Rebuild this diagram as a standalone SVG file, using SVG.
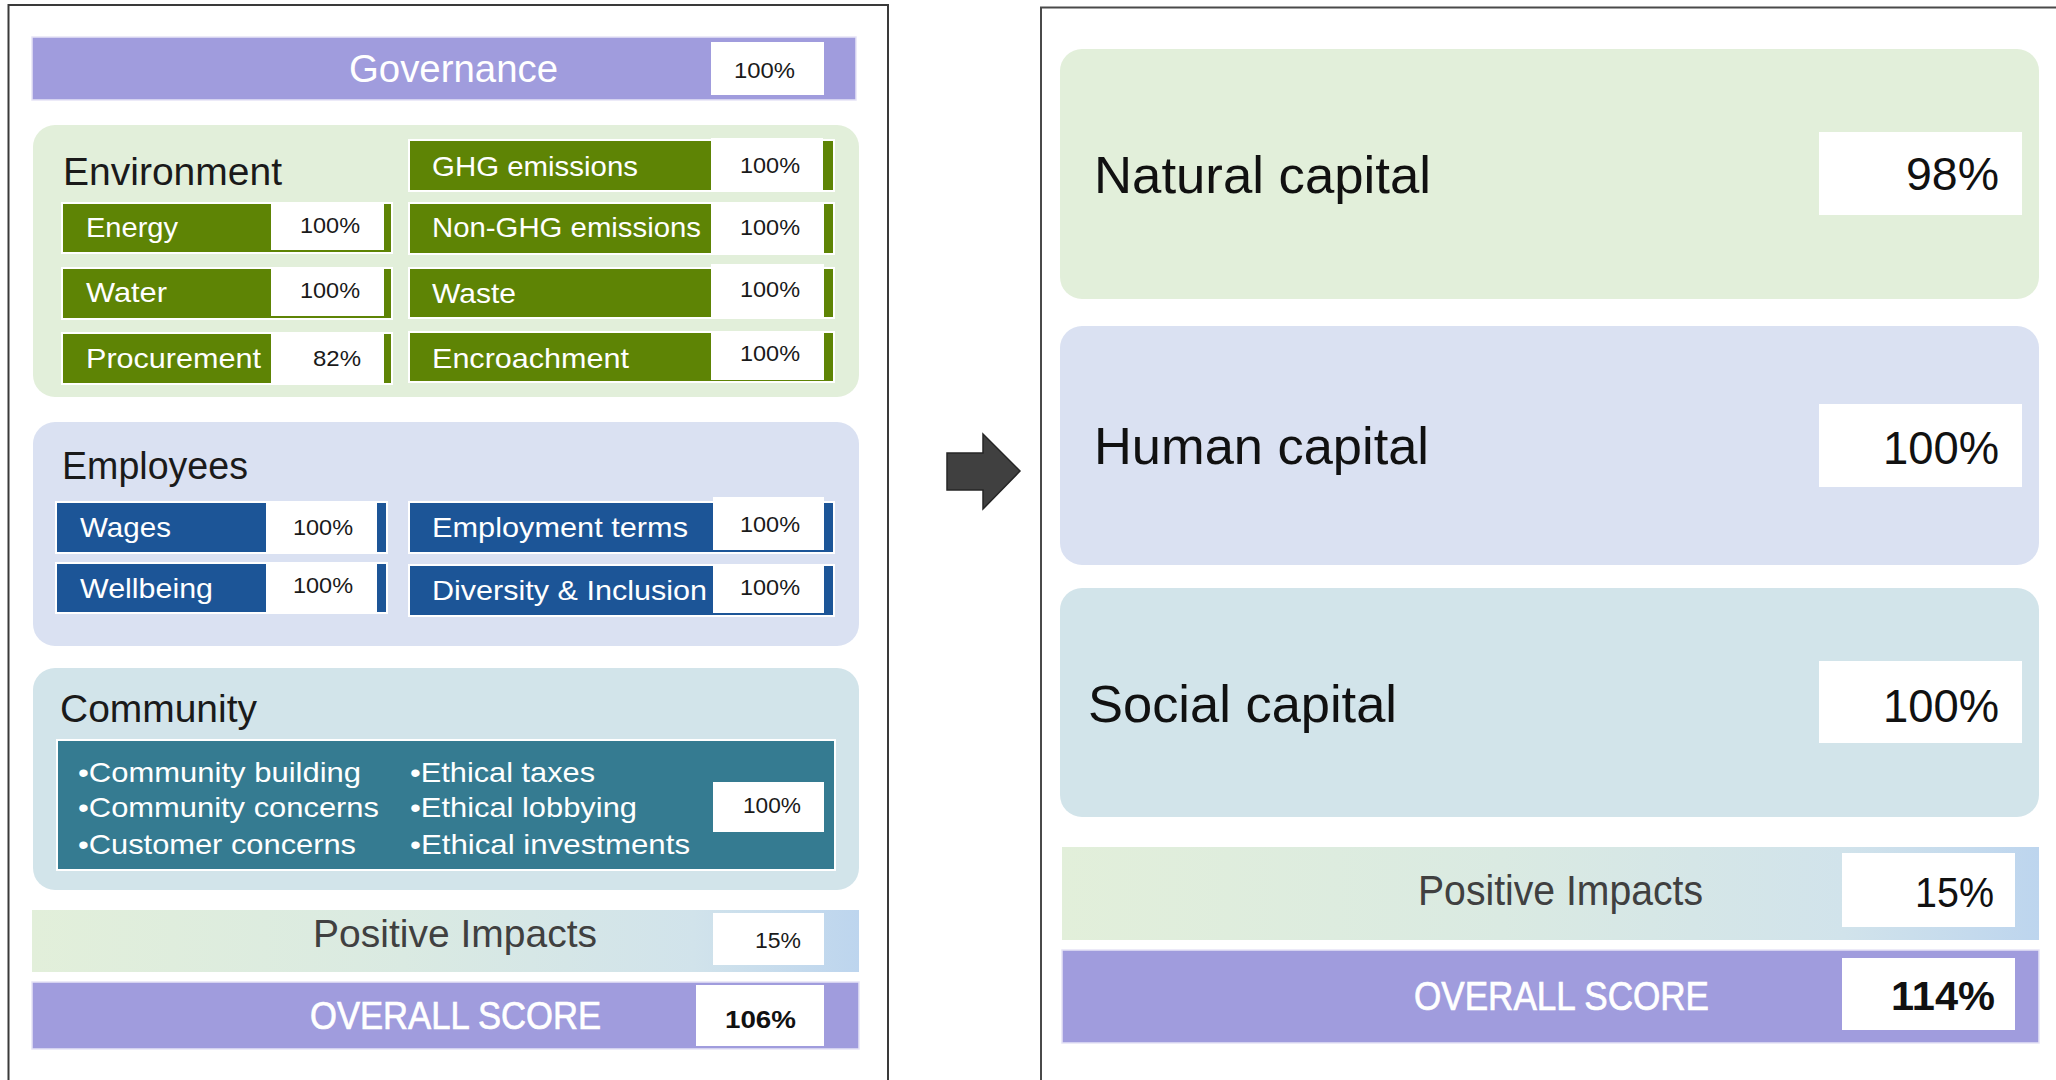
<svg xmlns="http://www.w3.org/2000/svg" width="2056" height="1080" viewBox="0 0 2056 1080">
<style>
text{font-family:"Liberation Sans",Arial,sans-serif}
.panel{fill:#fff;stroke:#3a3a3a;stroke-width:2}
.purple{fill:#A09CDD;stroke:#e6e4f6;stroke-width:1.5}
.wbox{fill:#fff}
.envbox{fill:#E2EFDA}
.empbox{fill:#DAE1F2}
.combox{fill:#D2E4EA}
.green{fill:#5E8405;stroke:#fff;stroke-width:2}
.blue{fill:#1C5597;stroke:#fff;stroke-width:2}
.teal{fill:#357B91;stroke:#fff;stroke-width:2}
.lbl{fill:#fff;font-size:28px}
.pct{fill:#1a1a1a;font-size:22px}
.title{fill:#1a1a1a;font-size:38px}
.big{fill:#111;font-size:52px}
.bigpct{fill:#111;font-size:46px}
.pos{fill:#404040}
.score{fill:#fff;stroke:#fff;stroke-width:0.7}
</style>
<defs>
<linearGradient id="posgrad" x1="0" y1="0" x2="1" y2="0">
<stop offset="0" stop-color="#E2EFDA"/>
<stop offset="0.45" stop-color="#DAEAE2"/>
<stop offset="0.8" stop-color="#D1E3EB"/>
<stop offset="1" stop-color="#BDD5EE"/>
</linearGradient>
</defs>
<rect width="2056" height="1080" fill="#fff"/>

<!-- left panel frame -->
<rect class="panel" x="8.5" y="5" width="879.5" height="1100"/>
<!-- right panel frame -->
<path d="M1041,1090 V7.5 H2060" fill="none" stroke="#4a4a4a" stroke-width="2"/>

<g id="governance">
<rect class="purple" x="32" y="37" width="824" height="63"/>
<rect class="wbox" x="711" y="42" width="113" height="53"/>
<text x="349" y="82" font-size="39" fill="#fff" textLength="209" lengthAdjust="spacingAndGlyphs">Governance</text>
<text class="pct" x="734" y="78" textLength="61" lengthAdjust="spacingAndGlyphs">100%</text>
</g>

<g id="environment">
<rect class="envbox" x="33" y="125" width="826" height="272" rx="22"/>
<text class="title" x="63" y="185" font-size="39" textLength="219" lengthAdjust="spacingAndGlyphs">Environment</text>
</g>
<g id="energy">
<rect class="green" x="62" y="203" width="330" height="50"/>
<rect class="wbox" x="271" y="203" width="113" height="47"/>
<text class="lbl" x="86" y="237" textLength="92" lengthAdjust="spacingAndGlyphs">Energy</text>
<text class="pct" x="300" y="233" textLength="60" lengthAdjust="spacingAndGlyphs">100%</text>
</g>
<g id="water">
<rect class="green" x="62" y="268" width="330" height="51"/>
<rect class="wbox" x="271" y="268" width="113" height="48"/>
<text class="lbl" x="86" y="302" textLength="81" lengthAdjust="spacingAndGlyphs">Water</text>
<text class="pct" x="300" y="298" textLength="60" lengthAdjust="spacingAndGlyphs">100%</text>
</g>
<g id="procurement">
<rect class="green" x="62" y="333" width="330" height="51"/>
<rect class="wbox" x="271" y="333" width="113" height="50"/>
<text class="lbl" x="86" y="368" textLength="175" lengthAdjust="spacingAndGlyphs">Procurement</text>
<text class="pct" x="313" y="366" textLength="48" lengthAdjust="spacingAndGlyphs">82%</text>
</g>
<g id="ghg">
<rect class="green" x="409" y="140" width="425" height="51"/>
<rect class="wbox" x="711" y="138" width="112" height="53"/>
<text class="lbl" x="432" y="176" textLength="206" lengthAdjust="spacingAndGlyphs">GHG emissions</text>
<text class="pct" x="740" y="173" textLength="60" lengthAdjust="spacingAndGlyphs">100%</text>
</g>
<g id="nonghg">
<rect class="green" x="409" y="203" width="425" height="51"/>
<rect class="wbox" x="711" y="203" width="113" height="51"/>
<text class="lbl" x="432" y="237" textLength="269" lengthAdjust="spacingAndGlyphs">Non-GHG emissions</text>
<text class="pct" x="740" y="235" textLength="60" lengthAdjust="spacingAndGlyphs">100%</text>
</g>
<g id="waste">
<rect class="green" x="409" y="268" width="425" height="50"/>
<rect class="wbox" x="711" y="264" width="113" height="53"/>
<text class="lbl" x="432" y="303" textLength="84" lengthAdjust="spacingAndGlyphs">Waste</text>
<text class="pct" x="740" y="297" textLength="60" lengthAdjust="spacingAndGlyphs">100%</text>
</g>
<g id="encroachment">
<rect class="green" x="409" y="332" width="425" height="50"/>
<rect class="wbox" x="711" y="331" width="113" height="49"/>
<text class="lbl" x="432" y="368" textLength="197" lengthAdjust="spacingAndGlyphs">Encroachment</text>
<text class="pct" x="740" y="361" textLength="60" lengthAdjust="spacingAndGlyphs">100%</text>
</g>

<g id="employees">
<rect class="empbox" x="33" y="422" width="826" height="224" rx="22"/>
<text class="title" x="62" y="479" textLength="186" lengthAdjust="spacingAndGlyphs">Employees</text>
</g>
<g id="wages">
<rect class="blue" x="56" y="502" width="331" height="51"/>
<rect class="wbox" x="266" y="502" width="111" height="50"/>
<text class="lbl" x="80" y="537" textLength="91" lengthAdjust="spacingAndGlyphs">Wages</text>
<text class="pct" x="293" y="535" textLength="60" lengthAdjust="spacingAndGlyphs">100%</text>
</g>
<g id="wellbeing">
<rect class="blue" x="56" y="563" width="331" height="50"/>
<rect class="wbox" x="266" y="563" width="111" height="50"/>
<text class="lbl" x="80" y="598" textLength="133" lengthAdjust="spacingAndGlyphs">Wellbeing</text>
<text class="pct" x="293" y="593" textLength="60" lengthAdjust="spacingAndGlyphs">100%</text>
</g>
<g id="employment-terms">
<rect class="blue" x="409" y="502" width="425" height="51"/>
<rect class="wbox" x="713" y="497" width="111" height="53"/>
<text class="lbl" x="432" y="537" textLength="256" lengthAdjust="spacingAndGlyphs">Employment terms</text>
<text class="pct" x="740" y="532" textLength="60" lengthAdjust="spacingAndGlyphs">100%</text>
</g>
<g id="diversity">
<rect class="blue" x="409" y="565" width="425" height="51"/>
<rect class="wbox" x="713" y="565" width="111" height="48"/>
<text class="lbl" x="432" y="600" textLength="275" lengthAdjust="spacingAndGlyphs">Diversity &amp; Inclusion</text>
<text class="pct" x="740" y="595" textLength="60" lengthAdjust="spacingAndGlyphs">100%</text>
</g>

<g id="community">
<rect class="combox" x="33" y="668" width="826" height="222" rx="22"/>
<text class="title" x="60" y="722" textLength="197" lengthAdjust="spacingAndGlyphs">Community</text>
<rect class="teal" x="57" y="740" width="778" height="130"/>
<rect class="wbox" x="713" y="782" width="111" height="50"/>
<text class="lbl" x="78" y="782" textLength="283" lengthAdjust="spacingAndGlyphs">•Community building</text>
<text class="lbl" x="78" y="817" textLength="301" lengthAdjust="spacingAndGlyphs">•Community concerns</text>
<text class="lbl" x="78" y="854" textLength="278" lengthAdjust="spacingAndGlyphs">•Customer concerns</text>
<text class="lbl" x="410" y="782" textLength="185" lengthAdjust="spacingAndGlyphs">•Ethical taxes</text>
<text class="lbl" x="410" y="817" textLength="227" lengthAdjust="spacingAndGlyphs">•Ethical lobbying</text>
<text class="lbl" x="410" y="854" textLength="280" lengthAdjust="spacingAndGlyphs">•Ethical investments</text>
<text class="pct" x="743" y="813" textLength="58" lengthAdjust="spacingAndGlyphs">100%</text>
</g>

<g id="positive-left">
<rect x="32" y="910" width="827" height="62" fill="url(#posgrad)"/>
<rect class="wbox" x="713" y="913" width="111" height="52"/>
<text class="pos" x="313" y="947" font-size="39" textLength="284" lengthAdjust="spacingAndGlyphs">Positive Impacts</text>
<text class="pct" x="755" y="948" font-size="19" textLength="46" lengthAdjust="spacingAndGlyphs">15%</text>
</g>

<g id="overall-left">
<rect class="purple" x="32" y="982" width="827" height="67"/>
<rect class="wbox" x="696" y="985" width="128" height="61"/>
<text class="score" x="310" y="1029" font-size="38" textLength="291" lengthAdjust="spacingAndGlyphs">OVERALL SCORE</text>
<text x="725" y="1028" font-size="24" font-weight="bold" fill="#111" textLength="71" lengthAdjust="spacingAndGlyphs">106%</text>
</g>

<g id="connectors">
<polygon points="947,453 983,453 983,434 1020,471 983,509 983,490 947,490" fill="#404040" stroke="#262626" stroke-width="1.5" stroke-linejoin="miter"/>
</g>

<g id="natural-capital">
<rect class="envbox" x="1060" y="49" width="979" height="250" rx="22"/>
<rect class="wbox" x="1819" y="132" width="203" height="83"/>
<text class="big" x="1094" y="193" textLength="337" lengthAdjust="spacingAndGlyphs">Natural capital</text>
<text class="bigpct" x="1906" y="190" textLength="93" lengthAdjust="spacingAndGlyphs">98%</text>
</g>
<g id="human-capital">
<rect class="empbox" x="1060" y="326" width="979" height="239" rx="22"/>
<rect class="wbox" x="1819" y="404" width="203" height="83"/>
<text class="big" x="1094" y="464" textLength="335" lengthAdjust="spacingAndGlyphs">Human capital</text>
<text class="bigpct" x="1883" y="464" textLength="116" lengthAdjust="spacingAndGlyphs">100%</text>
</g>
<g id="social-capital">
<rect class="combox" x="1060" y="588" width="979" height="229" rx="22"/>
<rect class="wbox" x="1819" y="661" width="203" height="82"/>
<text class="big" x="1088" y="722" textLength="309" lengthAdjust="spacingAndGlyphs">Social capital</text>
<text class="bigpct" x="1883" y="722" textLength="116" lengthAdjust="spacingAndGlyphs">100%</text>
</g>
<g id="positive-right">
<rect x="1062" y="847" width="977" height="93" fill="url(#posgrad)"/>
<rect class="wbox" x="1842" y="853" width="173" height="74"/>
<text class="pos" x="1418" y="905" font-size="42" textLength="285" lengthAdjust="spacingAndGlyphs">Positive Impacts</text>
<text x="1915" y="907" font-size="42" fill="#111" textLength="79" lengthAdjust="spacingAndGlyphs">15%</text>
</g>
<g id="overall-right">
<rect class="purple" x="1062" y="950" width="977" height="93"/>
<rect class="wbox" x="1842" y="958" width="173" height="72"/>
<text class="score" x="1414" y="1010" font-size="40" textLength="295" lengthAdjust="spacingAndGlyphs">OVERALL SCORE</text>
<text x="1891" y="1010" font-size="40" font-weight="bold" fill="#111" textLength="104" lengthAdjust="spacingAndGlyphs">114%</text>
</g>
</svg>
